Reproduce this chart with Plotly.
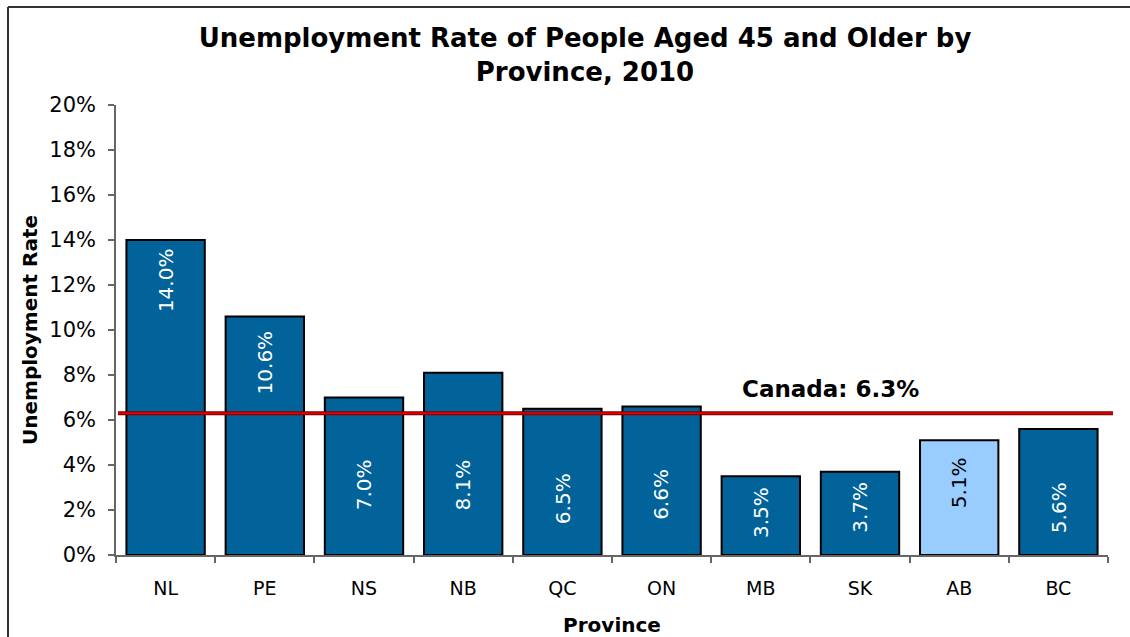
import plotly.graph_objects as go

# Unemployment rate (%) of people aged 45+, by province, 2010
provinces = ["NL", "PE", "NS", "NB", "QC", "ON", "MB", "SK", "AB", "BC"]
rates = [14.0, 10.6, 7.0, 8.1, 6.5, 6.6, 3.5, 3.7, 5.1, 5.6]
canada_rate = 6.3
highlight = "AB"

# vertical centre (in % units) of each rotated value label inside its bar
label_y = [12.2, 8.55, 3.1, 3.1, 2.5, 2.7, 1.9, 2.1, 3.2, 2.1]

y_ticks = [0, 2, 4, 6, 8, 10, 12, 14, 16, 18, 20]
y_tick_text = [f"{t}%" for t in y_ticks]

DARK = "#02639A"
LIGHT = "#99CCFF"
FONT = "DejaVu Sans"

W, H = 1130, 637
ML, MR, MT, MB = 116, 22, 105, 82
PW, PH = W - ML - MR, H - MT - MB

colors = [LIGHT if p == highlight else DARK for p in provinces]

fig = go.Figure()
fig.add_trace(go.Bar(
    x=provinces,
    y=rates,
    marker=dict(color=colors, line=dict(color="black", width=2)),
    hoverinfo="x+y",
))

# rotated value labels
annotations = []
for p, r, ly in zip(provinces, rates, label_y):
    annotations.append(dict(
        x=p, y=ly, xref="x", yref="y",
        text=f"{r:.1f}%", textangle=-90, showarrow=False,
        font=dict(family=FONT, size=20,
                  color="black" if p == highlight else "white"),
    ))

# Canada reference label
annotations.append(dict(
    x=6.7, y=canada_rate, xref="x", yref="y",
    text="<b>Canada: 6.3%</b>", showarrow=False,
    yanchor="bottom", yshift=9,
    font=dict(family=FONT, size=23, color="black"),
))

def px_x(v):
    return (v - ML) / PW

def px_y(v):
    return (H - MB - v) / PH

shapes = [
    # Canada average line
    dict(type="line", xref="paper", yref="y",
         x0=px_x(118), x1=px_x(1113), y0=canada_rate, y1=canada_rate,
         line=dict(color="#7A0000", width=4), layer="above"),
    dict(type="line", xref="paper", yref="y",
         x0=px_x(118), x1=px_x(1113), y0=canada_rate, y1=canada_rate,
         line=dict(color="#E00000", width=2), layer="above"),
    # chart frame: left and top edges
    dict(type="line", xref="paper", yref="paper",
         x0=px_x(8), x1=px_x(8), y0=px_y(7), y1=px_y(640),
         line=dict(color="#333333", width=2), layer="below"),
    dict(type="line", xref="paper", yref="paper",
         x0=px_x(8), x1=px_x(1130), y0=px_y(7), y1=px_y(7),
         line=dict(color="#333333", width=2), layer="below"),
]

fig.update_layout(
    width=W, height=H,
    margin=dict(l=ML, r=MR, t=MT, b=MB),
    paper_bgcolor="white", plot_bgcolor="white",
    bargap=0.21,
    showlegend=False,
    font=dict(family=FONT, size=19, color="black"),
    title=dict(
        text="<b>Unemployment Rate of People Aged 45 and Older by<br>Province, 2010</b>",
        x=585 / W, xanchor="center",
        y=1 - 47 / H, yanchor="middle",
        font=dict(family=FONT, size=26, color="black"),
    ),
    xaxis=dict(
        showline=True, linecolor="#666666", linewidth=1.5,
        ticks="outside", tickson="boundaries", ticklen=6,
        tickcolor="#666666", tickwidth=1.5,
        tickfont=dict(family=FONT, size=19),
        ticklabelstandoff=15,
        title=dict(text="<b>Province</b>", font=dict(family=FONT, size=20),
                   standoff=20),
        showgrid=False, automargin=False,
    ),
    yaxis=dict(
        range=[0, 20], tickvals=y_ticks, ticktext=y_tick_text,
        showline=True, linecolor="#666666", linewidth=1.5,
        ticks="outside", ticklen=6, tickcolor="#666666", tickwidth=1.5,
        tickfont=dict(family=FONT, size=21),
        ticklabelstandoff=8,
        title=dict(text="<b>Unemployment Rate</b>",
                   font=dict(family=FONT, size=20), standoff=6),
        showgrid=False, zeroline=False, automargin=False,
    ),
    annotations=annotations,
    shapes=shapes,
)

fig.write_html("out.html")
